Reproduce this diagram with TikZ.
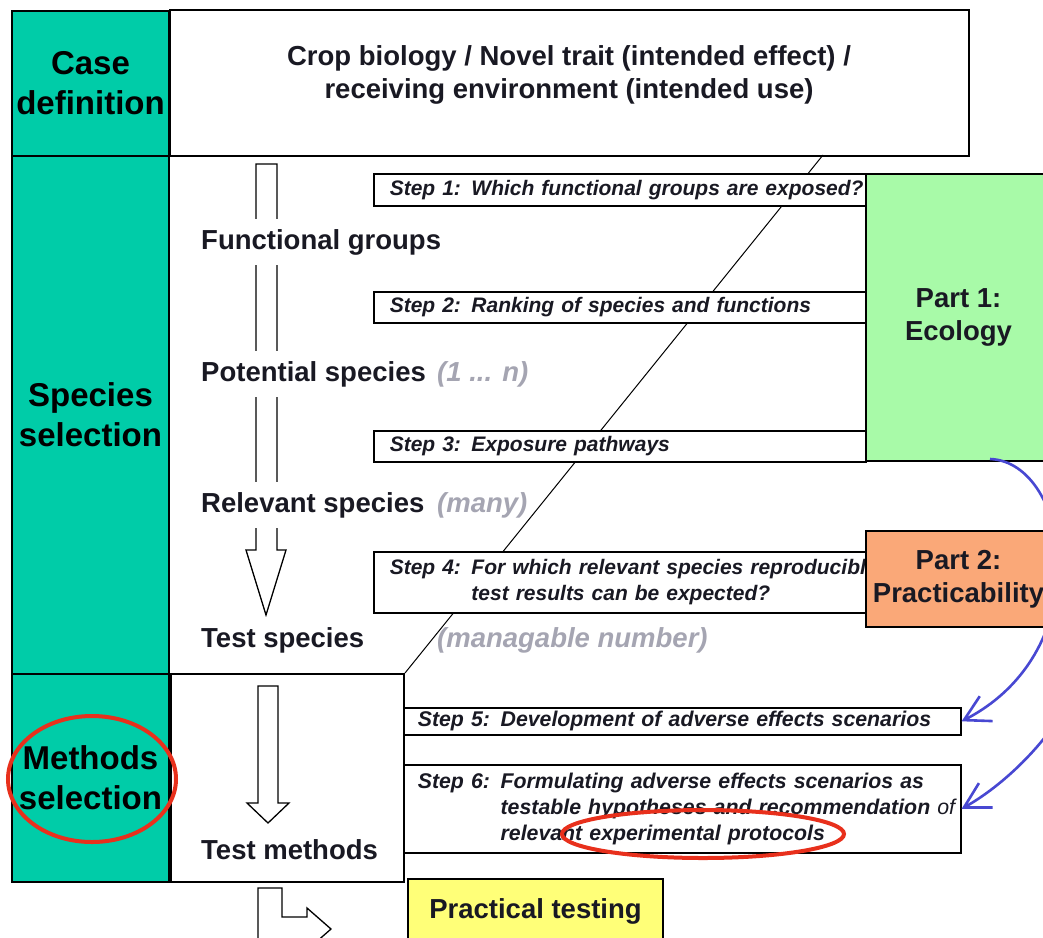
\documentclass[tikz,border=0pt]{standalone}
\usepackage{fontspec}
\setmainfont{Liberation Sans}
\usetikzlibrary{arrows.meta}
\definecolor{tealc}{RGB}{0,204,168}
\definecolor{greenc}{RGB}{168,250,168}
\definecolor{orangec}{RGB}{250,168,120}
\definecolor{yellowc}{RGB}{255,255,120}
\definecolor{graytxt}{RGB}{165,165,178}
\definecolor{bluec}{RGB}{72,72,210}
\definecolor{redc}{RGB}{232,48,28}
\definecolor{txt}{RGB}{25,25,35}
\begin{document}
\begin{tikzpicture}[x=1pt,y=-1pt,
  tealbox/.style={draw, line width=2pt, fill=tealc, anchor=north west, inner sep=0pt, align=center, font=\fontsize{33}{40}\selectfont\bfseries},
  wbox/.style={draw, line width=2pt, fill=white, anchor=north west, inner sep=0pt},
  maintext/.style={font=\fontsize{27.5}{33}\selectfont\bfseries, text=txt, inner sep=0pt},
  leftlbl/.style={maintext, anchor=west, fill=white, minimum height=46pt, inner xsep=2pt},
  graylbl/.style={font=\fontsize{27.5}{33}\selectfont\bfseries\itshape, text=graytxt, anchor=west, inner sep=0pt},
  stepbold/.style={draw, line width=1.6pt, fill=white, anchor=north west, inner xsep=16pt, inner ysep=0pt, text width=460pt, align=left, font=\fontsize{21}{26}\selectfont\bfseries\itshape, text=txt},
  stepreg/.style={draw, line width=1.6pt, fill=white, anchor=north west, inner xsep=14pt, inner ysep=0pt, text width=529pt, align=left, font=\fontsize{21.3}{26}\selectfont\bfseries\itshape, text=txt},
  partbox/.style={draw, line width=2pt, anchor=north west, inner sep=0pt, align=center, font=\fontsize{27.5}{33}\selectfont\bfseries, text=txt},
  harrow/.style={draw=black, line width=1.3pt, fill=white, line join=miter},
  bluearrow/.style={draw=bluec, line width=2.6pt, -{Straight Barb[length=25pt,width=28pt,line width=2.6pt]}},
  redring/.style={draw=redc, line width=4pt},
]
\useasboundingbox (0,0) rectangle (1043,937);
\clip (0,0) rectangle (1043,937);
\fill[white] (0,0) rectangle (1043,937);

% left column
\node[tealbox, minimum width=157pt, minimum height=145pt] (cd) at (11,10) {Case\\definition};
\node[tealbox, minimum width=157pt, minimum height=518pt] (ss) at (11,155) {Species\\selection};
\node[tealbox, minimum width=157pt, minimum height=208pt] (ms) at (11,673) {Methods\\selection};

% top box
\node[wbox, minimum width=799pt, minimum height=146pt] (top) at (169,9) {};
\node[maintext, align=center] (toptext) at (569,75) {Crop biology / Novel trait (intended effect) /\\receiving environment (intended use)};

% methods box
\node[wbox, minimum width=233pt, minimum height=208pt] (mb) at (170,673) {};

% diagonal
\coordinate (dtop) at (823,155);
\draw[line width=1pt] (dtop) -- (mb.north east);

% step boxes
\node[stepbold, minimum height=32pt] (s1) at (373,173) {\mbox{Step 1: Which functional groups are exposed?}};
\node[stepbold, minimum height=31pt] (s2) at (373,291) {\mbox{Step 2: Ranking of species and functions}};
\node[stepbold, minimum height=31pt] (s3) at (373,430) {\mbox{Step 3: Exposure pathways}};
\node[stepbold, minimum height=61pt] (s4) at (373,551) {\begin{tabular}{@{}l@{ }l@{}}Step 4: & For which relevant species reproducible\\ & test results can be expected?\end{tabular}};
\node[stepreg, minimum height=27pt] (s5) at (403,707) {\mbox{Step 5: Development of adverse effects scenarios}};
\node[stepreg, minimum height=88pt] (s6) at (403,764) {\begin{tabular}{@{}l@{ }l@{}}Step 6: & Formulating adverse effects scenarios as\\ & testable hypotheses and recommendation {\mdseries of}\\ & relevant experimental protocols\end{tabular}};

% part boxes
\node[partbox, fill=greenc, minimum width=185pt, minimum height=287pt] (p1) at (865,173) {Part 1:\\Ecology};
\node[partbox, fill=orangec, minimum width=185pt, minimum height=96pt] (p2) at (865,530) {Part 2:\\Practicability};
\node[partbox, fill=yellowc, minimum width=255pt, minimum height=64pt] (pt) at (407,878) {Practical testing};

% hollow arrows
\draw[harrow] (256,164) -- (277,164) -- (277,550) -- (286,550) -- (266,615) -- (246,550) -- (256,550) -- cycle;
\draw[harrow] (258,686) -- (278,686) -- (278,803) -- (289,803) -- (268,823) -- (247,803) -- (258,803) -- cycle;
\draw[harrow] (258,888) -- (282,888) -- (282,917) -- (307,917) -- (307,908) -- (331,929) -- (307,950) -- (307,941) -- (258,941) -- cycle;

% left labels
\node[leftlbl] (fg) at (199,242) {Functional groups};
\node[leftlbl] (ps) at (199,374) {Potential species};
\node[graylbl] (psn) at (437,374) {(1 ... n)};
\node[leftlbl] (rs) at (199,505) {Relevant species};
\node[graylbl] (rsn) at (437,505) {(many)};
\node[leftlbl] (ts) at (199,640) {Test species};
\node[graylbl] (tsn) at (437,640) {(managable number)};
\node[leftlbl] (tm) at (199,850) {Test methods};

% blue arrows
\coordinate (a1s) at (990,459);
\draw[bluearrow] (a1s) .. controls (1070,462) and (1100,650) .. (s5.east);
\draw[bluearrow] (p2.east) .. controls (1140,640) and (1040,765) .. (s6.east);

% red rings
\draw[redring] (92,779) ellipse [x radius=84pt, y radius=63pt];
\draw[redring] (703,834) ellipse [x radius=141pt, y radius=24pt];
\end{tikzpicture}
\end{document}
